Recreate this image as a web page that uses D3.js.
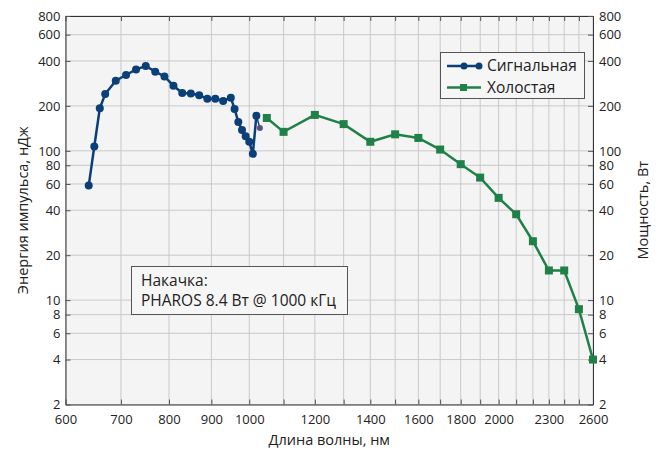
<!DOCTYPE html>
<html>
<head>
<meta charset="utf-8">
<script src="https://cdn.jsdelivr.net/npm/d3@7"></script>
<style>
  body { margin: 0; background: #fff; }
  svg { font-family: "Open Sans", sans-serif; }
</style>
</head>
<body>
<svg id="chart" width="659" height="452"></svg>
<script>
'use strict';

// Signal wave: wavelength (nm) and pulse energy (nJ)
const signalWl = [640, 650, 660, 670, 690, 710, 730, 750, 770, 790, 810, 830, 850, 870, 890, 910, 930, 950, 960, 970, 980, 990, 1000, 1010, 1020];
const signalE = [58.5, 107, 193, 240, 295, 322, 351, 370, 339, 315, 273, 244, 242, 236, 223, 223, 216, 227, 191, 156, 138, 125, 115, 95.5, 172];
// lone extra point just after the signal curve
const extraWl = [1030];
const extraE = [142];

// Idler wave: wavelength (nm) and power (W)
const idlerWl = [1050, 1100, 1200, 1300, 1400, 1500, 1600, 1700, 1800, 1900, 2000, 2100, 2200, 2300, 2400, 2500, 2600];
const idlerP = [166, 134, 174, 151, 115, 129, 122, 102, 81.4, 66.2, 48.4, 37.6, 24.8, 15.8, 15.8, 8.7, 4.0];

// axis ticks
const xTickLabels = [600, 700, 800, 900, 1000, 1200, 1400, 1600, 1800, 2000, 2300, 2600];
const xGrid = d3.range(600, 2601, 100);
const yTicks = [2, 4, 6, 8, 10, 20, 40, 60, 80, 100, 200, 400, 600, 800];

const legendNames = ['Сигнальная', 'Холостая'];
const noteLines = ['Накачка:', 'PHAROS 8.4 Вт @ 1000 кГц'];

const blue = '#0b3f78';
const green = '#1f8048';

const plotL = 65.5, plotR = 593, plotT = 16, plotB = 404.5;

const svg = d3.select('#chart');

const x = d3.scaleLog().domain([600, 2600]).range([plotL, plotR]);
const y = d3.scaleLog().domain([2, 800]).range([plotB, plotT]);

// plot background
svg.append('rect')
  .attr('x', plotL).attr('y', plotT)
  .attr('width', plotR - plotL).attr('height', plotB - plotT)
  .attr('fill', '#f4f4f4');

// grid
svg.append('g').selectAll('line').data(xGrid).join('line')
  .attr('x1', d => x(d)).attr('x2', d => x(d))
  .attr('y1', plotT).attr('y2', plotB)
  .attr('stroke', '#c9c9c9').attr('stroke-width', 1);
svg.append('g').selectAll('line').data(yTicks).join('line')
  .attr('x1', plotL).attr('x2', plotR)
  .attr('y1', d => y(d)).attr('y2', d => y(d))
  .attr('stroke', '#c9c9c9').attr('stroke-width', 1);

// axes (ticks point inward)
const tickFmt = d => String(d);
const gBottom = svg.append('g').attr('transform', `translate(0,${plotB})`)
  .call(d3.axisBottom(x).tickValues(xGrid).tickSizeInner(-5).tickSizeOuter(0)
    .tickFormat(d => xTickLabels.includes(d) ? tickFmt(d) : ''));
const gTop = svg.append('g').attr('transform', `translate(0,${plotT})`)
  .call(d3.axisTop(x).tickValues(xGrid).tickSizeInner(-5).tickSizeOuter(0).tickFormat(''));
const gLeft = svg.append('g').attr('transform', `translate(${plotL},0)`)
  .call(d3.axisLeft(y).tickValues(yTicks).tickSizeInner(-5).tickSizeOuter(0).tickFormat(tickFmt));
const gRight = svg.append('g').attr('transform', `translate(${plotR},0)`)
  .call(d3.axisRight(y).tickValues(yTicks).tickSizeInner(-5).tickSizeOuter(0).tickFormat(tickFmt));

[gBottom, gTop, gLeft, gRight].forEach(g => {
  g.select('.domain').attr('stroke', '#333');
  g.selectAll('.tick line').attr('stroke', '#555');
  g.selectAll('.tick text')
    .attr('fill', '#222')
    .style('font-size', '13px')
    .style('font-family', '"Open Sans", sans-serif');
});
gBottom.selectAll('.tick text').attr('y', 10);
gLeft.selectAll('.tick text').attr('x', -5);
gRight.selectAll('.tick text').attr('x', 6);

// axis titles
svg.append('text')
  .attr('x', (plotL + plotR) / 2).attr('y', 445)
  .attr('text-anchor', 'middle')
  .attr('fill', '#222').style('font-size', '14.5px')
  .text('Длина волны, нм');
svg.append('text')
  .attr('transform', `translate(28,${(plotT + plotB) / 2}) rotate(-90)`)
  .attr('text-anchor', 'middle')
  .attr('fill', '#222').style('font-size', '14.5px')
  .text('Энергия импульса, нДж');
svg.append('text')
  .attr('transform', `translate(648,${(plotT + plotB) / 2}) rotate(-90)`)
  .attr('text-anchor', 'middle')
  .attr('fill', '#222').style('font-size', '14.5px')
  .text('Мощность, Вт');

// series
const signal = signalWl.map((w, i) => ({ w, v: signalE[i] }));
const idler = idlerWl.map((w, i) => ({ w, v: idlerP[i] }));
const extra = extraWl.map((w, i) => ({ w, v: extraE[i] }));

const line = d3.line().x(d => x(d.w)).y(d => y(d.v));

// short link from the last signal point to the extra point
svg.append('path')
  .datum([signal[signal.length - 1], extra[0]])
  .attr('d', line).attr('fill', 'none')
  .attr('stroke', blue).attr('stroke-width', 1.5);

svg.append('path').datum(signal)
  .attr('d', line).attr('fill', 'none')
  .attr('stroke', blue).attr('stroke-width', 2.5);
svg.append('g').selectAll('circle').data(signal).join('circle')
  .attr('cx', d => x(d.w)).attr('cy', d => y(d.v)).attr('r', 4)
  .attr('fill', blue);

svg.append('g').selectAll('circle').data(extra).join('circle')
  .attr('cx', d => x(d.w)).attr('cy', d => y(d.v)).attr('r', 3)
  .attr('fill', '#5b4f80');

svg.append('path').datum(idler)
  .attr('d', line).attr('fill', 'none')
  .attr('stroke', green).attr('stroke-width', 2.5);
svg.append('g').selectAll('rect').data(idler).join('rect')
  .attr('x', d => x(d.w) - 4).attr('y', d => y(d.v) - 4)
  .attr('width', 8).attr('height', 8)
  .attr('fill', green);

// legend
const leg = svg.append('g');
leg.append('rect')
  .attr('x', 440.5).attr('y', 52.5).attr('width', 144).attr('height', 46)
  .attr('fill', '#f6f6f6').attr('stroke', '#555');
legendNames.forEach((name, i) => {
  const ly = 66 + i * 21.5;
  const col = i === 0 ? blue : green;
  leg.append('line')
    .attr('x1', 447).attr('x2', 481).attr('y1', ly).attr('y2', ly)
    .attr('stroke', col).attr('stroke-width', 2.5);
  if (i === 0) {
    [464, 479].forEach(cx => leg.append('circle')
      .attr('cx', cx).attr('cy', ly).attr('r', 3.5).attr('fill', col));
  } else {
    leg.append('rect')
      .attr('x', 460).attr('y', ly - 3.5).attr('width', 7).attr('height', 7)
      .attr('fill', col);
  }
  leg.append('text')
    .attr('x', 487).attr('y', ly + 5)
    .attr('fill', '#222').style('font-size', '15.5px')
    .text(name);
});

// pump note
const note = svg.append('g');
note.append('rect')
  .attr('x', 131.5).attr('y', 266.5).attr('width', 216).attr('height', 48)
  .attr('fill', '#f6f6f6').attr('stroke', '#555');
noteLines.forEach((t, i) => {
  note.append('text')
    .attr('x', 141).attr('y', 286 + i * 20)
    .attr('fill', '#222').style('font-size', '15.5px')
    .text(t);
});
</script>
</body>
</html>
